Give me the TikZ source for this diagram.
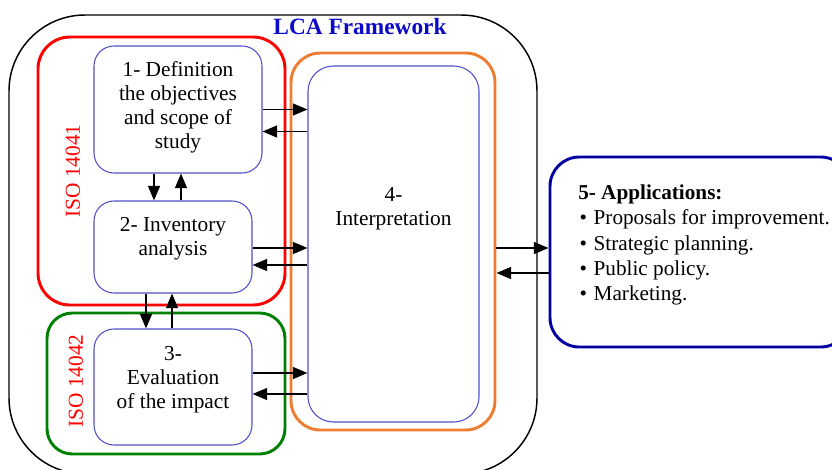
\documentclass[tikz,border=0pt]{standalone}
\usepackage{fontspec}
\setmainfont{Liberation Serif}
\usetikzlibrary{positioning, calc, arrows.meta}
\definecolor{isored}{RGB}{255,0,0}
\definecolor{isogreen}{RGB}{0,128,0}
\definecolor{intorange}{RGB}{237,125,49}
\definecolor{stepblue}{RGB}{80,80,200}
\definecolor{appnavy}{RGB}{0,0,160}
\definecolor{titleblue}{RGB}{10,10,200}

\begin{document}
\begin{tikzpicture}[x=0.75pt, y=-0.75pt,
    frame/.style={draw=#1, line width=2.2pt, inner sep=0pt},
    stepbox/.style={draw=stepblue, line width=0.8pt, rounded corners=15pt, inner sep=0pt},
    steptext/.style={align=center, font=\fontsize{16}{18}\selectfont},
    isolabel/.style={rotate=90, text=isored, font=\fontsize{16}{18}\selectfont},
    arr/.style={-{Triangle[length=11pt,width=9pt]}, line width=1.2pt}]
    \useasboundingbox (0,0) rectangle (832,469);
    \clip (0,0) rectangle (832,469);

    % Outer LCA frame
    \node[draw, line width=1.1pt, rounded corners=57pt, minimum width=396pt, minimum height=344.25pt, inner sep=0pt] (lca) at (273,244.5) {};
    \node[font=\bfseries\fontsize{17.5}{20}\selectfont, text=titleblue] (lcatxt) at (360,27) {LCA Framework};

    % ISO frames and interpretation frame
    \node[frame=isored, rounded corners=24pt, minimum width=185.25pt, minimum height=201pt] (iso41) at (161.5,171) {};
    \node[frame=isogreen, rounded corners=19pt, minimum width=178.5pt, minimum height=105.75pt] (iso42) at (166,383.5) {};
    \node[frame=intorange, rounded corners=22pt, minimum width=153pt, minimum height=282.75pt] (intframe) at (393,241.5) {};
    \node[isolabel] (iso41txt) at (73,171) {ISO 14041};
    \node[isolabel] (iso42txt) at (76,381) {ISO 14042};

    % Phase boxes
    \node[stepbox, minimum width=126pt, minimum height=95.25pt] (def) at (178,109.5) {};
    \node[stepbox, minimum width=118.5pt, minimum height=69pt] (inv) at (173,247) {};
    \node[stepbox, minimum width=118.5pt, minimum height=87pt] (eval) at (173,387) {};
    \node[stepbox, rounded corners=19pt, minimum width=128.25pt, minimum height=267pt] (interp) at (393.5,244) {};
    \node[steptext] (deftxt) at (178,107) {1- Definition\\the objectives\\and scope of\\study};
    \node[steptext] (invtxt) at (173,239) {2- Inventory\\analysis};
    \node[steptext] (evaltxt) at (173,380) {3-\\Evaluation\\of the impact};
    \node[steptext] (interptxt) at (393.5,209) {4-\\Interpretation};

    % Applications box
    \node[frame=appnavy, rounded corners=22pt, minimum width=225pt, minimum height=142.5pt] (app) at (700,252) {};
    \node[anchor=west, align=left, inner sep=0pt, font=\fontsize{15.9}{18.9}\selectfont] (apptxt) at (578,245)
        {\textbf{5- Applications:}\\
         \hspace{1pt}\textbullet\hspace{5pt}Proposals for improvement.\\
         \hspace{1pt}\textbullet\hspace{5pt}Strategic planning.\\
         \hspace{1pt}\textbullet\hspace{5pt}Public policy.\\
         \hspace{1pt}\textbullet\hspace{5pt}Marketing.};

    % Arrows between phases
    \draw[arr] ($(def.south)+(-24,0)$) -- ($(inv.north -| def.south)+(-24,0)$);
    \draw[arr] ($(inv.north -| def.south)+(3,0)$) -- ($(def.south)+(3,0)$);
    \draw[arr] ($(inv.south)+(-27,0)$) -- ($(eval.north -| inv.south)+(-27,0)$);
    \draw[arr] ($(eval.north -| inv.south)+(-1,0)$) -- ($(inv.south)+(-1,0)$);

    % Arrows to and from interpretation
    \draw[arr] (def.east) -- (interp.west |- def.east);
    \draw[arr] ($(interp.west |- def.east)+(0,22)$) -- ($(def.east)+(0,22)$);
    \draw[arr] ($(inv.east)+(0,1)$) -- ($(interp.west |- inv.east)+(0,1)$);
    \draw[arr] ($(interp.west |- inv.east)+(0,18)$) -- ($(inv.east)+(0,18)$);
    \draw[arr] ($(eval.east)+(0,-14)$) -- ($(interp.west |- eval.east)+(0,-14)$);
    \draw[arr] ($(interp.west |- eval.east)+(0,7)$) -- ($(eval.east)+(0,7)$);

    % Arrows to and from applications
    \draw[arr] ($(intframe.east |- app.west)+(0,-4)$) -- ($(app.west)+(0,-4)$);
    \draw[arr] ($(app.west)+(0,21)$) -- ($(intframe.east |- app.west)+(0,21)$);
\end{tikzpicture}
\end{document}
